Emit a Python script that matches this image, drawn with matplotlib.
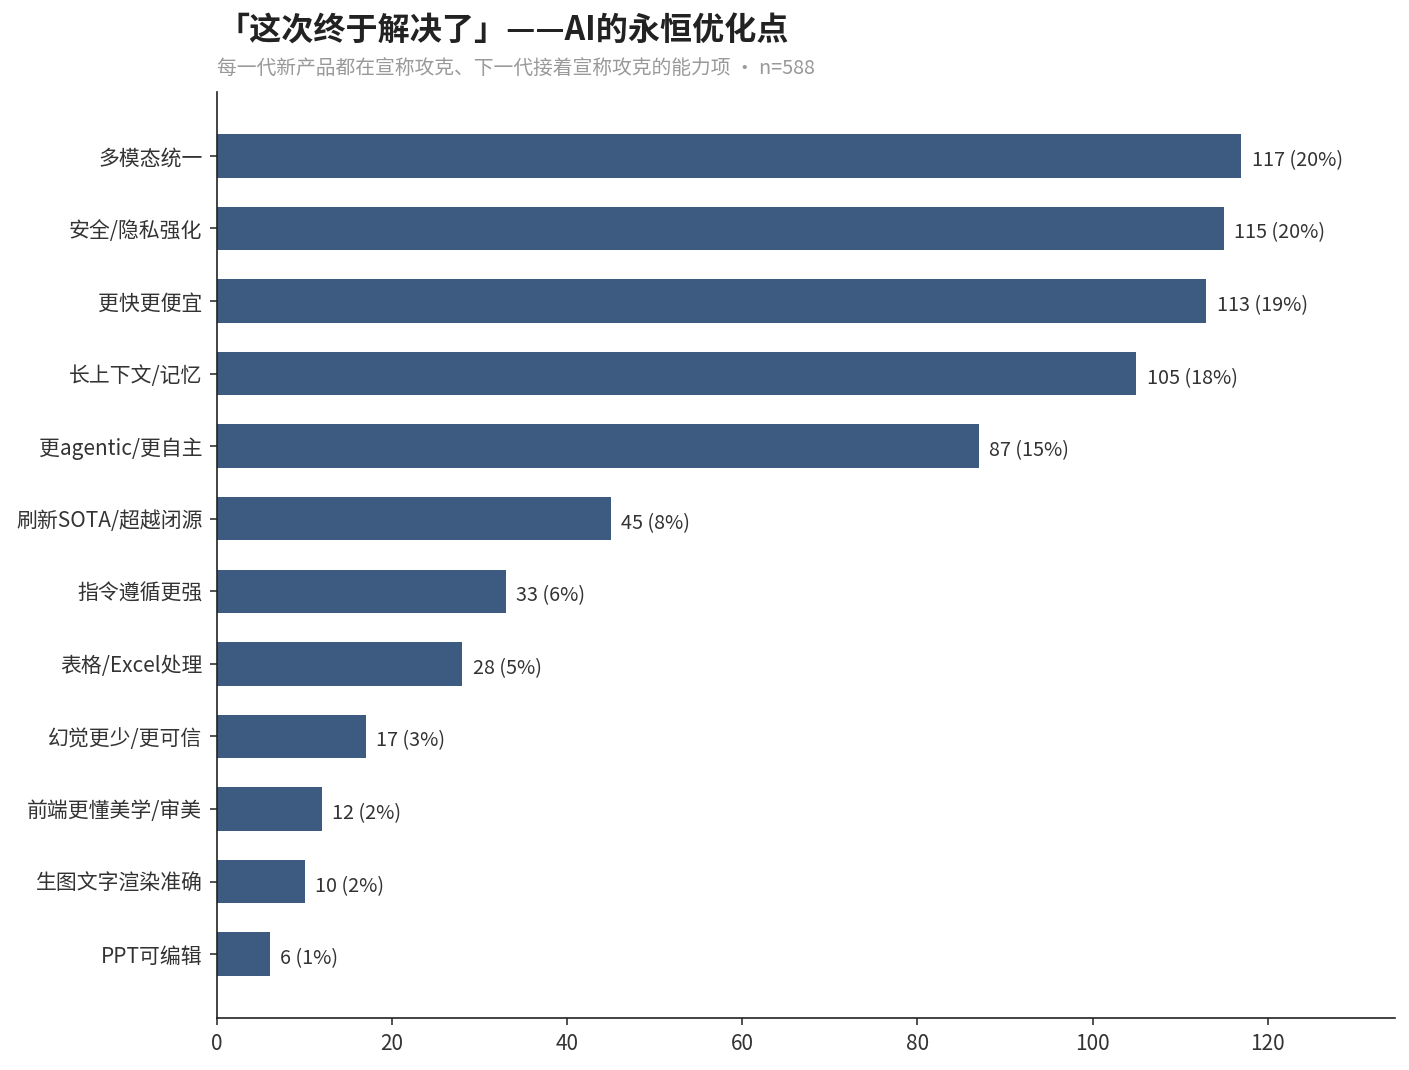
import matplotlib
matplotlib.use("Agg")
import matplotlib.pyplot as plt

plt.rcParams['font.family'] = ['Noto Sans CJK SC', 'DejaVu Sans']

categories = ["多模态统一", "安全/隐私强化", "更快更便宜", "长上下文/记忆", "更agentic/更自主",
              "刷新SOTA/超越闭源", "指令遵循更强", "表格/Excel处理", "幻觉更少/更可信",
              "前端更懂美学/审美", "生图文字渲染准确", "PPT可编辑"]
counts = [117, 115, 113, 105, 87, 45, 33, 28, 17, 12, 10, 6]
n_total = 588

title = "「这次终于解决了」——AI的永恒优化点"
subtitle = "每一代新产品都在宣称攻克、下一代接着宣称攻克的能力项 · n=588"

bar_color = "#3d5a80"
text_color = "#333333"

fig = plt.figure(figsize=(1409/150, 1070/150), dpi=150)
ax = fig.add_axes([217/1409, 52/1070, (1395-217)/1409, (1018-92)/1070])

y = list(range(len(categories)))[::-1]
ax.barh(y, counts, height=0.6, color=bar_color)
ax.set_yticks(y)
ax.set_yticklabels(categories, fontsize=10, color=text_color)
ax.set_xlim(0, max(counts) * 1.15)
ax.tick_params(axis='x', labelsize=10, colors=text_color)
ax.tick_params(axis='y', colors=text_color)
for s in ["top", "right"]:
    ax.spines[s].set_visible(False)
for s in ["left", "bottom"]:
    ax.spines[s].set_color("#222222")

for yi, c in zip(y, counts):
    pct = round(c / n_total * 100)
    ax.annotate(f"{c} ({pct}%)", xy=(c, yi), xytext=(5, -1), textcoords="offset points",
                va="center_baseline", ha="left", fontsize=9.5, color=text_color)

fig.text(217/1409, 1 - 31/1070, title, fontsize=15.4, fontweight="bold", color="#222222",
         ha="left", va="center")
fig.text(217/1409, 1 - 69/1070, subtitle, fontsize=9.5, color="#999999",
         ha="left", va="center")

fig.savefig("out.png", dpi=150)
